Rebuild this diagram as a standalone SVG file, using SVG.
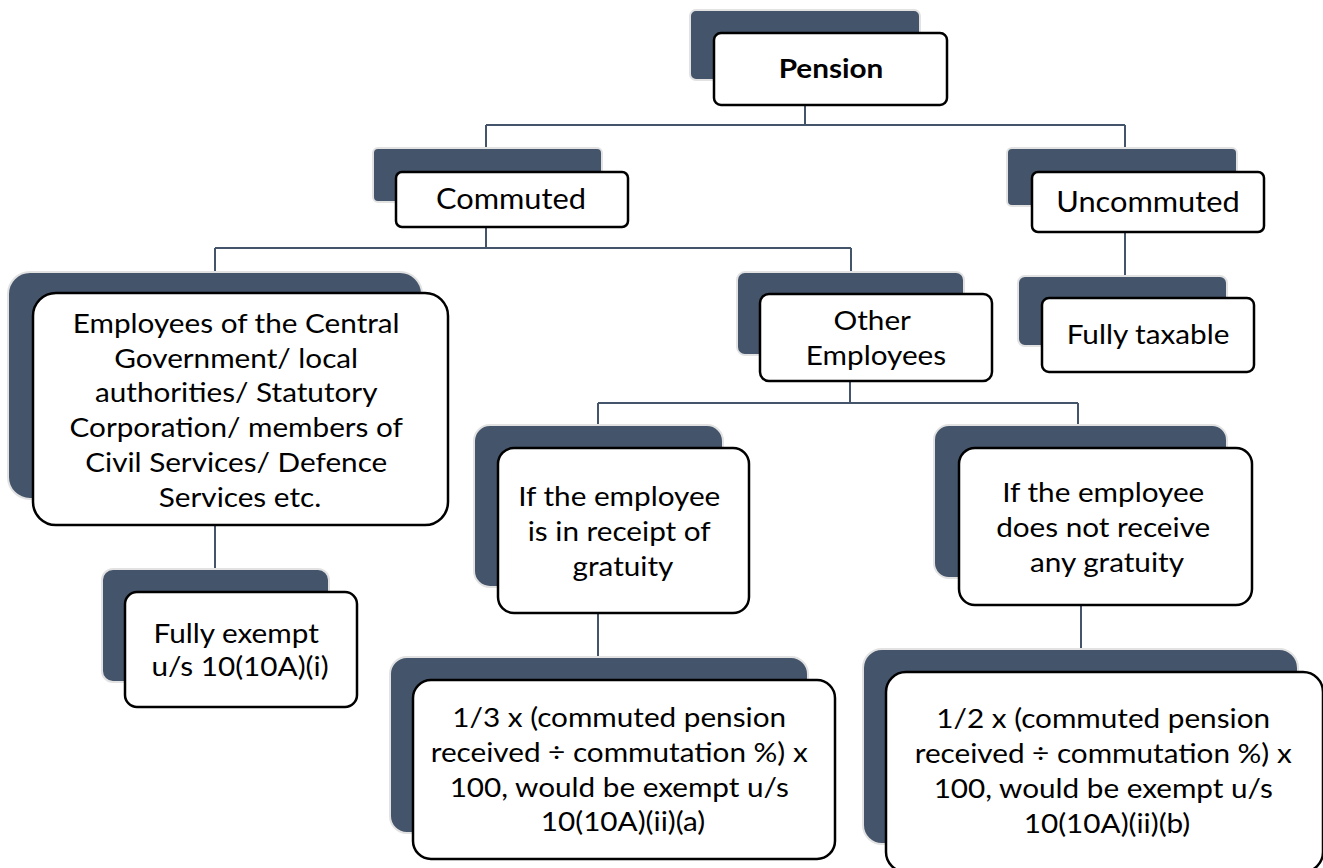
<svg xmlns="http://www.w3.org/2000/svg" width="1323" height="868" viewBox="0 0 1323 868">
  <style>
    .back { fill: #44546a; stroke: #e2e2e2; stroke-width: 2; }
    .front { fill: #ffffff; stroke: #000000; stroke-width: 2.5; }
    .link { fill: none; stroke: #44546a; stroke-width: 2; }
    .t { font-family: Lato, "Liberation Sans", sans-serif; font-size: 27.5px; fill: #000000; text-anchor: middle; }
    .lg { font-size: 28.5px; }
    .b { font-weight: bold; }
  </style>
  <rect width="1323" height="868" fill="#ffffff"/>

  <!-- connectors -->
  <g id="connectors">
    <path class="link" d="M805 105 V125 M486 125 H1125 M486 125 V148 M1125 125 V148"/>
    <path class="link" d="M486 227 V248 M215 248 H851 M215 248 V272 M851 248 V272"/>
    <path class="link" d="M1125 232 V276"/>
    <path class="link" d="M215 525 V569"/>
    <path class="link" d="M850 381 V403 M598 403 H1078 M598 403 V425 M1078 403 V425"/>
    <path class="link" d="M598 613 V657"/>
    <path class="link" d="M1081 605 V649"/>
  </g>

  <g id="pension">
    <rect class="back" x="690" y="10" width="230" height="70" rx="6"/>
    <rect class="front" x="714" y="33" width="233" height="72" rx="7"/>
    <text class="t b" transform="translate(831 0) scale(1.08 1)" x="0" y="78">Pension</text>
  </g>

  <g id="commuted">
    <rect class="back" x="373" y="148" width="229" height="54" rx="5"/>
    <rect class="front" x="396" y="172" width="232" height="55" rx="6"/>
    <text class="t lg" transform="translate(511 0) scale(1.08 1)" x="0" y="209">Commuted</text>
  </g>

  <g id="uncommuted">
    <rect class="back" x="1007" y="148" width="230" height="58" rx="5"/>
    <rect class="front" x="1032" y="172" width="232" height="60" rx="6"/>
    <text class="t lg" transform="translate(1148 0) scale(1.08 1)" x="0" y="212">Uncommuted</text>
  </g>

  <g id="fully-taxable">
    <rect class="back" x="1018" y="276" width="209" height="70" rx="7"/>
    <rect class="front" x="1042" y="298" width="212" height="74" rx="7"/>
    <text class="t" transform="translate(1148 0) scale(1.08 1)" x="0" y="344">Fully taxable</text>
  </g>

  <g id="govt-employees">
    <rect class="back" x="8" y="272" width="414" height="227" rx="22"/>
    <rect class="front" x="33" y="293" width="415" height="232" rx="23"/>
    <text class="t" transform="translate(240 0) scale(1.08 1)">
      <tspan x="0" y="333">Employees of the Central</tspan>
      <tspan x="0" y="368">Government/ local</tspan>
      <tspan x="0" y="402">authorities/ Statutory</tspan>
      <tspan x="0" y="437">Corporation/ members of</tspan>
      <tspan x="0" y="472">Civil Services/ Defence</tspan>
      <tspan x="0" y="507">Services etc.</tspan>
    </text>
  </g>

  <g id="fully-exempt">
    <rect class="back" x="102" y="569" width="227" height="113" rx="11"/>
    <rect class="front" x="125" y="592" width="232" height="115" rx="12"/>
    <text class="t" transform="translate(240 0) scale(1.08 1)">
      <tspan x="0" y="643">Fully exempt</tspan>
      <tspan x="0" y="676">u/s 10(10A)(i)</tspan>
    </text>
  </g>

  <g id="other-employees">
    <rect class="back" x="737" y="272" width="227" height="83" rx="8"/>
    <rect class="front" x="760" y="294" width="232" height="87" rx="9"/>
    <text class="t" transform="translate(876 0) scale(1.08 1)">
      <tspan x="0" y="330">Other</tspan>
      <tspan x="0" y="365">Employees</tspan>
    </text>
  </g>

  <g id="with-gratuity">
    <rect class="back" x="474" y="425" width="249" height="162" rx="16"/>
    <rect class="front" x="498" y="448" width="251" height="165" rx="16"/>
    <text class="t" transform="translate(623 0) scale(1.08 1)">
      <tspan x="0" y="506">If the employee</tspan>
      <tspan x="0" y="541">is in receipt of</tspan>
      <tspan x="0" y="576">gratuity</tspan>
    </text>
  </g>

  <g id="without-gratuity">
    <rect class="back" x="934" y="425" width="293" height="153" rx="15"/>
    <rect class="front" x="959" y="448" width="293" height="157" rx="16"/>
    <text class="t" transform="translate(1107 0) scale(1.08 1)">
      <tspan x="0" y="502">If the employee</tspan>
      <tspan x="0" y="537">does not receive</tspan>
      <tspan x="0" y="572">any gratuity</tspan>
    </text>
  </g>

  <g id="exemption-one-third">
    <rect class="back" x="390" y="657" width="418" height="176" rx="17"/>
    <rect class="front" x="413" y="680" width="422" height="179" rx="18"/>
    <text class="t" transform="translate(623 0) scale(1.08 1)">
      <tspan x="0" y="727">1/3 x (commuted pension</tspan>
      <tspan x="0" y="762">received ÷ commutation %) x</tspan>
      <tspan x="0" y="797">100, would be exempt u/s</tspan>
      <tspan x="0" y="831">10(10A)(ii)(a)</tspan>
    </text>
  </g>

  <g id="exemption-one-half">
    <rect class="back" x="863" y="649" width="435" height="195" rx="19"/>
    <rect class="front" x="886" y="672" width="437" height="200" rx="20"/>
    <text class="t" transform="translate(1107 0) scale(1.08 1)">
      <tspan x="0" y="728">1/2 x (commuted pension</tspan>
      <tspan x="0" y="763">received ÷ commutation %) x</tspan>
      <tspan x="0" y="798">100, would be exempt u/s</tspan>
      <tspan x="0" y="833">10(10A)(ii)(b)</tspan>
    </text>
  </g>
</svg>
